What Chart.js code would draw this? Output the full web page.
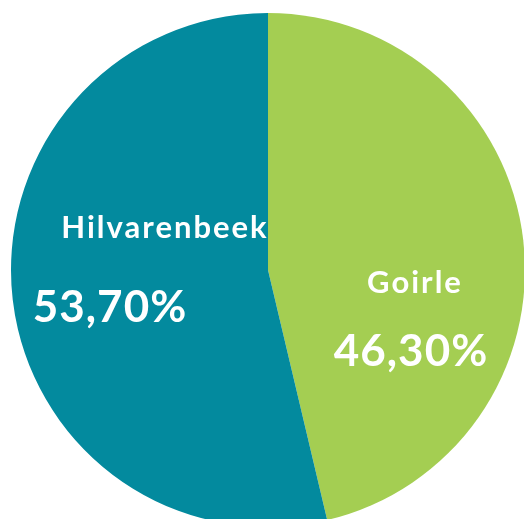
<!DOCTYPE html>
<html>
<head>
<meta charset="utf-8">
<style>
  html, body { margin: 0; padding: 0; background: #fff; overflow: hidden; width: 524px; height: 519px; }
  #wrap { position: absolute; left: 0; top: 0; width: 536px; height: 540px; }
</style>
<script src="https://cdn.jsdelivr.net/npm/chart.js@4/dist/chart.umd.min.js"></script>
</head>
<body>
<div id="wrap"><canvas id="pie"></canvas></div>
<script>
const labels = ['Goirle', 'Hilvarenbeek'];
const shares = [46.3, 53.7];
const colors = ['#A4CE52', '#038A9E'];
// label offsets from pie centre: [name dx, name dy, value dx, value dy]
const labelOffsets = [[147, 13, 143, 82], [-103, -42, -158, 38]];

function fmt(v) {
  return v.toFixed(2).replace('.', ',') + '%';
}

const sliceLabels = {
  id: 'sliceLabels',
  afterDatasetsDraw(chart) {
    const ctx = chart.ctx;
    const arcs = chart.getDatasetMeta(0).data;
    ctx.save();
    ctx.fillStyle = '#fff';
    ctx.textAlign = 'center';
    ctx.textBaseline = 'middle';
    arcs.forEach((arc, i) => {
      const o = labelOffsets[i];
      ctx.font = 'bold 31px Lato';
      ctx.letterSpacing = '2px';
      ctx.fillText(labels[i], arc.x + o[0], arc.y + o[1]);
      ctx.font = 'bold 44px Lato';
      ctx.letterSpacing = '1px';
      ctx.fillText(fmt(shares[i]), arc.x + o[2], arc.y + o[3]);
    });
    ctx.restore();
  }
};

new Chart(document.getElementById('pie'), {
  type: 'pie',
  data: {
    labels: labels,
    datasets: [{
      data: shares,
      backgroundColor: colors,
      borderWidth: 0
    }]
  },
  options: {
    responsive: true,
    maintainAspectRatio: false,
    animation: false,
    radius: 257,
    events: [],
    layout: { padding: 0 },
    plugins: { legend: { display: false }, tooltip: { enabled: false } }
  },
  plugins: [sliceLabels]
});
</script>
</body>
</html>
